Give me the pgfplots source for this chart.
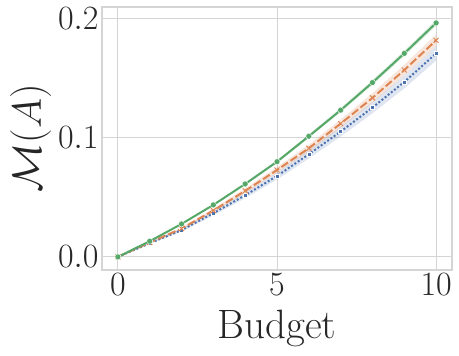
\RequirePackage{fix-cm}
\documentclass[border=0pt]{standalone}
\usepackage{pgfplots}
\pgfplotsset{compat=1.18}
\usepackage{pgfplotstable}
\usepgfplotslibrary{fillbetween}
\usetikzlibrary{calc}
\definecolor{sblue}{HTML}{4C72B0}
\definecolor{sorange}{HTML}{DD8452}
\definecolor{sgreen}{HTML}{55A868}
\definecolor{gridgray}{HTML}{D5D5D5}

\pgfplotstableread{
x g gl gu o ol ou b bl bu
0 0.0000 0.00000 0.00000 0.0000 0.0000 0.0000 0.0000 0.0000 0.0000
1 0.0132 0.01295 0.01345 0.0122 0.0117 0.0127 0.0115 0.0109 0.0121
2 0.0277 0.02720 0.02820 0.0238 0.0228 0.0248 0.0225 0.0213 0.0237
3 0.0437 0.04295 0.04445 0.0390 0.0375 0.0405 0.0367 0.0349 0.0385
4 0.0613 0.06030 0.06230 0.0555 0.0535 0.0575 0.0518 0.0494 0.0542
5 0.0800 0.07875 0.08125 0.0730 0.0705 0.0755 0.0680 0.0650 0.0710
6 0.1014 0.09990 0.10290 0.0913 0.0883 0.0943 0.0863 0.0827 0.0899
7 0.1233 0.12155 0.12505 0.1120 0.1085 0.1155 0.1053 0.1011 0.1095
8 0.1465 0.14450 0.14850 0.1336 0.1296 0.1376 0.1255 0.1207 0.1303
9 0.1710 0.16875 0.17325 0.1570 0.1525 0.1615 0.1470 0.1416 0.1524
10 0.1966 0.19410 0.19910 0.1820 0.1770 0.1870 0.1710 0.1650 0.1770
}\budget

\begin{document}
\begin{tikzpicture}
\begin{axis}[
    width=350pt, height=263pt, scale only axis,
    xmin=-0.5, xmax=10.5, ymin=-0.011, ymax=0.21,
    xtick={0,5,10}, ytick={0,0.1,0.2},
    yticklabel style={/pgf/number format/fixed, /pgf/number format/precision=1,
      /pgf/number format/fixed zerofill},
    grid=major, grid style={draw=gridgray, line width=1pt},
    axis line style={draw=gridgray, line width=1.25pt},
    major tick length=0pt,
    tick label style={font=\fontsize{34}{40}\selectfont, text=black!85},
    label style={font=\fontsize{41}{48}\selectfont, text=black!85},
    xlabel={Budget}, ylabel={$\mathcal{M}(A)$},
    xlabel style={yshift=-8pt},
  ]
  \addplot[name path=bl, draw=none, forget plot] table[x=x, y=bl] {\budget};
  \addplot[name path=bu, draw=none, forget plot] table[x=x, y=bu] {\budget};
  \addplot[sblue, fill opacity=0.18, draw=none, forget plot] fill between[of=bl and bu];
  \addplot[name path=ol, draw=none, forget plot] table[x=x, y=ol] {\budget};
  \addplot[name path=ou, draw=none, forget plot] table[x=x, y=ou] {\budget};
  \addplot[sorange, fill opacity=0.2, draw=none, forget plot] fill between[of=ol and ou];
  \addplot[name path=gl, draw=none, forget plot] table[x=x, y=gl] {\budget};
  \addplot[name path=gu, draw=none, forget plot] table[x=x, y=gu] {\budget};
  \addplot[sgreen, fill opacity=0.2, draw=none, forget plot] fill between[of=gl and gu];

  \addplot[sblue, line width=2pt, dash pattern=on 2pt off 2pt,
    mark=square*, mark size=2pt, mark options={solid, draw=white, line width=0.4pt}]
    table[x=x, y=b] {\budget};
  \addplot[sorange, line width=2pt, dash pattern=on 8pt off 3pt,
    mark=x, mark size=3.5pt, mark options={solid, line width=1pt}]
    table[x=x, y=o] {\budget};
  \addplot[sgreen, line width=2pt,
    mark=*, mark size=3pt, mark options={solid, draw=white, line width=0.4pt}]
    table[x=x, y=g] {\budget};
\end{axis}
\path ($(current axis.south west)+(-102pt,-85pt)$) rectangle ($(current axis.north east)+(7pt,7pt)$);
\end{tikzpicture}
\end{document}
